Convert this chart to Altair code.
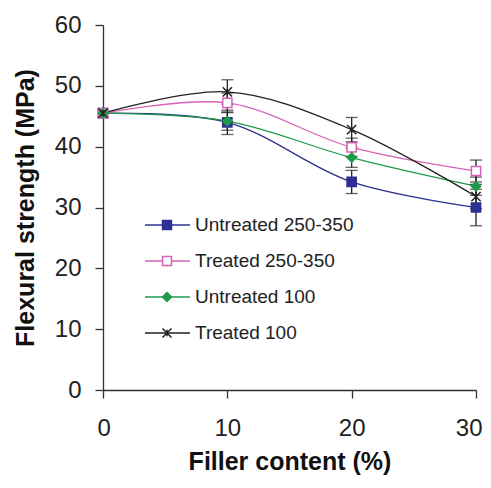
import altair as alt
import pandas as pd

series = ["Untreated 250-350", "Treated 250-350", "Untreated 100", "Treated 100"]
filler = [0, 10, 20, 30]
values = {
    "Untreated 250-350": [45.5, 44.0, 34.2, 30.0],
    "Treated 250-350": [45.5, 47.2, 39.9, 36.0],
    "Untreated 100": [45.5, 44.2, 38.2, 33.5],
    "Treated 100": [45.5, 49.0, 42.8, 31.8],
}
errors = {
    "Untreated 250-350": [0, 2.0, 1.9, 3.0],
    "Treated 250-350": [0, 1.6, 1.5, 1.8],
    "Untreated 100": [0, 1.5, 1.6, 1.5],
    "Treated 100": [0, 2.0, 2.0, 2.0],
}
colors = ["#2E3092", "#D862B8", "#1E9B48", "#222222"]
fills = ["#2E3092", "#FFFFFF", "#1E9B48", "#222222"]
shapes = ["square", "square", "diamond", "M-1,-1L1,1M-1,1L1,-1M0,-0.7L0,0.7"]

rows = []
for s in series:
    for f, v, e in zip(filler, values[s], errors[s]):
        rows.append({"filler": f, "value": v, "err": e, "series": s})
df = pd.DataFrame(rows)
leg = pd.DataFrame({"series": series})

FONT = "Liberation Sans"
W, H = 373, 365

xscale = alt.Scale(domain=[0, 30], nice=False)
yscale = alt.Scale(domain=[0, 60], nice=False)
xenc = alt.X("filler:Q", scale=xscale,
             axis=alt.Axis(values=[0, 10, 20, 30], title="Filler content (%)", grid=False,
                           tickSize=8, labelPadding=18, titlePadding=9,
                           labelFlush=True, labelFlushOffset=6))
yenc = alt.Y("value:Q", scale=yscale,
             axis=alt.Axis(values=[0, 10, 20, 30, 40, 50, 60], title="Flexural strength (MPa)",
                           grid=False, tickSize=8, labelPadding=14, titlePadding=16))
cscale = alt.Scale(domain=series, range=colors)
color = alt.Color("series:N", scale=cscale, legend=None)
stroke = alt.Stroke("series:N", scale=cscale, legend=None)
fill = alt.Fill("series:N", scale=alt.Scale(domain=series, range=fills), legend=None)
shape = alt.Shape("series:N", scale=alt.Scale(domain=series, range=shapes), legend=None)

base = alt.Chart(df)
lines = base.mark_line(interpolate="catmull-rom", strokeWidth=1.3).encode(x=xenc, y=yenc, color=color)
eb = base.transform_filter("datum.err > 0").transform_calculate(
    lo="datum.value - datum.err", hi="datum.value + datum.err")
rules = eb.mark_rule(color="#222", strokeWidth=1.3).encode(
    x=alt.X("filler:Q", scale=xscale), y=alt.Y("lo:Q", scale=yscale), y2="hi:Q")
cap_lo = eb.mark_tick(color="#222", thickness=1.3, size=12, orient="horizontal").encode(
    x=alt.X("filler:Q", scale=xscale), y=alt.Y("lo:Q", scale=yscale))
cap_hi = eb.mark_tick(color="#222", thickness=1.3, size=12, orient="horizontal").encode(
    x=alt.X("filler:Q", scale=xscale), y=alt.Y("hi:Q", scale=yscale))
points = base.mark_point(size=85, opacity=1, fillOpacity=1, strokeWidth=1.5).encode(
    x=alt.X("filler:Q", scale=xscale), y=alt.Y("value:Q", scale=yscale),
    shape=shape, fill=fill, stroke=stroke)
main = alt.layer(lines, rules, cap_lo, cap_hi, points)

lyenc = alt.Y("series:N", sort=series, axis=None,
              scale=alt.Scale(type="point", domain=series, range=[200, 308], padding=0))
lbase = alt.Chart(leg)
lrule = lbase.mark_rule(strokeWidth=1.3).encode(x=alt.value(42), x2=alt.value(87), y=lyenc, color=color)
lpts = lbase.mark_point(size=80, opacity=1, fillOpacity=1, strokeWidth=1.5).encode(
    x=alt.value(64), y=lyenc, shape=shape, fill=fill, stroke=stroke)
ltext = lbase.mark_text(align="left", baseline="middle", font=FONT, fontSize=19, color="#222").encode(
    x=alt.value(92), y=lyenc, text="series:N")
legend = alt.layer(lrule, lpts, ltext)

chart = alt.layer(main, legend).resolve_scale(y="independent").properties(
    width=W, height=H,
    autosize=alt.AutoSizeParams(type="none"),
    padding={"left": 95, "top": 17, "right": 7, "bottom": 90},
).configure_view(stroke=None).configure_axis(
    labelFont=FONT, titleFont=FONT, labelFontSize=24, titleFontSize=25,
    labelColor="#222", titleColor="#111", titleFontWeight="bold",
    domainColor="#333", tickColor="#333", domainWidth=1.3, tickWidth=1.3,
)

chart.save("out.html", embed_options={"renderer": "svg", "actions": False})
